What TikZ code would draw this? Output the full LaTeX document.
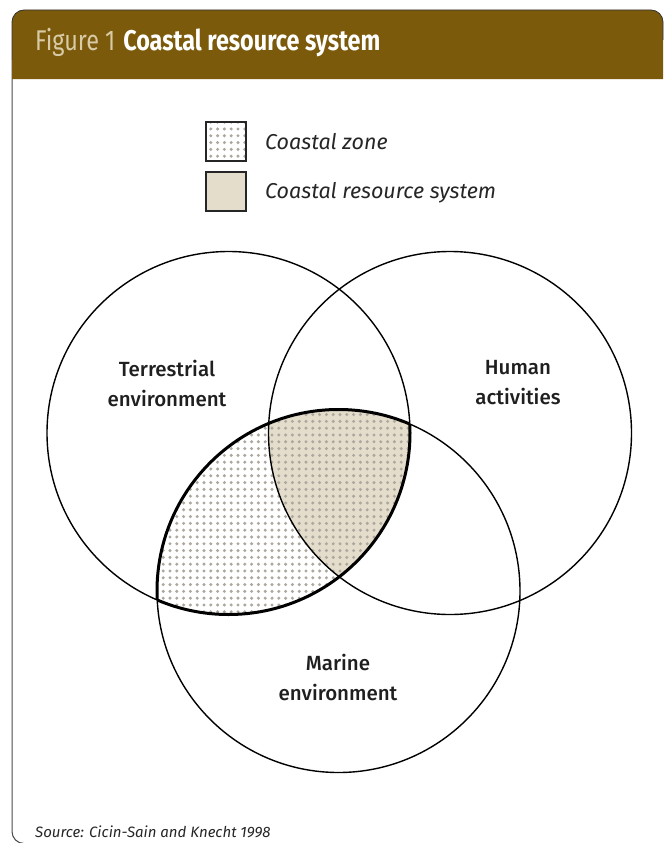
\documentclass[tikz,border=0pt]{standalone}
\usepackage{fontspec}
\setmainfont{Fira Sans}
\newfontfamily\headfont[FakeStretch=0.82]{Fira Sans}
\newfontfamily\medfont{Fira Sans Medium}
\usetikzlibrary{patterns}
\definecolor{headbrown}{HTML}{7C5A0C}
\definecolor{figlabel}{HTML}{D8CBA6}
\definecolor{sandfill}{HTML}{E5DDCB}
\definecolor{dotgray}{HTML}{ADA89F}
\definecolor{framegray}{HTML}{4A4A4A}
\pgfdeclarepatternformonly{coastdots}{\pgfpoint{-3.4pt}{-3.4pt}}{\pgfpoint{3.4pt}{3.4pt}}{\pgfpoint{6.8pt}{6.8pt}}
	{\pgfpathcircle{\pgfpointorigin}{1.7pt}\pgfusepath{fill}}
\begin{document}
\begin{tikzpicture}[x=1pt,y=-1pt]
	\useasboundingbox (0,0) rectangle (664,843);
	\tikzstyle{zone}=[pattern=coastdots,pattern color=dotgray]
	\tikzstyle{circlabel}=[font=\medfont\fontsize{20.5}{30}\selectfont,align=center,inner sep=0pt,text=black!88]
	\tikzstyle{keybox}=[draw=black!85,line width=2pt,minimum width=40pt,minimum height=39pt,inner sep=0pt]
	\tikzstyle{keytext}=[font=\fontsize{21.5}{24}\selectfont\itshape,anchor=west,inner sep=0pt,text=black!85]
	% frame and header
	\draw[framegray,line width=1pt,rounded corners=12pt] (12,60) -- (12,843.5) -- (60,843.5);
	\fill[headbrown] (12,79) [rounded corners=12pt] -- (12,10) -- (663,10) [sharp corners] -- (663,79) -- cycle;
	\draw[black!80,line width=0.8pt,rounded corners=12pt] (12,60) -- (12,10) -- (663,10) -- (663,40);
	\path (35,43) node (title) [anchor=west,inner sep=0pt,font=\headfont\fontsize{28.5}{30}\selectfont]
		{\textcolor{figlabel}{Figure 1}\hspace{8pt}\textcolor{white}{\bfseries Coastal resource system}};
	% legend
	\path (226,141) node (key1) [keybox,zone] {};
	\path (226,191.5) node (key2) [keybox,fill=sandfill] {};
	\path (265,142) node (key1t) [keytext] {Coastal zone};
	\path (265,193) node (key2t) [keytext] {Coastal resource system};
	% circles
	\coordinate (terr) at (228.5,433);
	\coordinate (human) at (450,433);
	\coordinate (marine) at (338.5,591);
	\begin{scope}
		\clip (terr) circle (181.5);
		\clip (human) circle (181.5);
		\fill[sandfill] (marine) circle (181.5);
	\end{scope}
	\begin{scope}
		\clip (terr) circle (181.5);
		\fill[zone] (marine) circle (181.5);
	\end{scope}
	\draw[line width=1.4pt] (terr) circle (181.5);
	\draw[line width=1.4pt] (human) circle (181.5);
	\draw[line width=1.4pt] (marine) circle (181.5);
	\begin{scope}
		\clip (terr) circle (181.5);
		\draw[line width=3pt] (marine) circle (181.5);
	\end{scope}
	\begin{scope}
		\clip (marine) circle (181.5);
		\draw[line width=3pt] (terr) circle (181.5);
	\end{scope}
	\path (167,383) node (terrt) [circlabel] {Terrestrial\\environment};
	\path (518,383) node (humant) [circlabel] {Human\\activities};
	\path (338,677) node (marinet) [circlabel] {Marine\\environment};
	\path (35,832) node (src) [anchor=west,inner sep=0pt,font=\fontsize{15}{17}\selectfont\itshape,text=black!85]
		{Source: Cicin-Sain and Knecht 1998};
\end{tikzpicture}
\end{document}
